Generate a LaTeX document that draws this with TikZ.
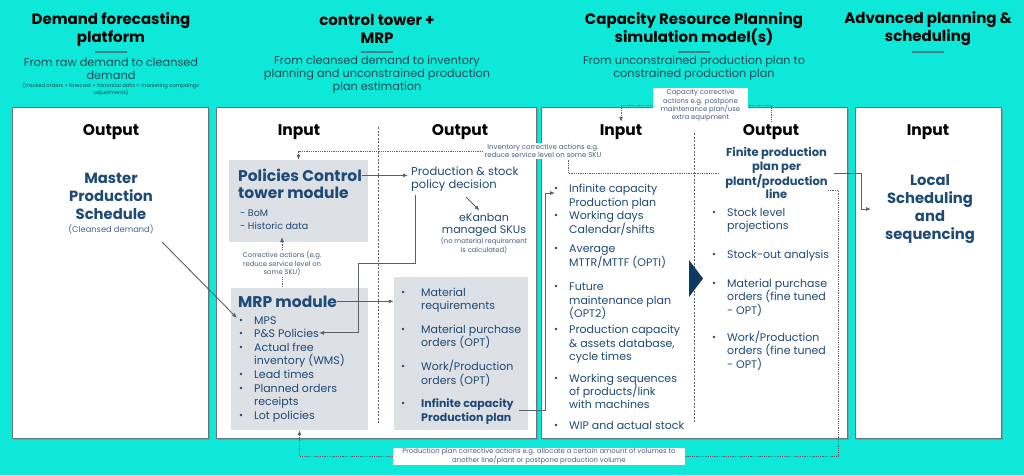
\documentclass[tikz,border=0pt]{standalone}
\usepackage{fontspec}
\setmainfont{Poppins}
\usetikzlibrary{arrows.meta,shadows}
\definecolor{bgc}{RGB}{14,232,216}
\definecolor{navy}{RGB}{30,74,118}
\definecolor{subc}{RGB}{32,72,84}
\definecolor{lblc}{RGB}{70,92,125}
\definecolor{cdc}{RGB}{70,100,140}
\definecolor{grayb}{RGB}{221,224,229}
\definecolor{linec}{RGB}{88,96,108}
\definecolor{borderc}{RGB}{105,115,120}
\definecolor{barc}{RGB}{70,125,135}
\definecolor{tric}{RGB}{14,58,100}
\tikzset{
  colbox/.style={draw=borderc, line width=0.8pt, fill=white, drop shadow={shadow xshift=1.5pt, shadow yshift=-1.5pt, opacity=0.5}, inner sep=0},
  graybox/.style={fill=grayb, inner sep=0},
  hdr/.style={font=\fontsize{15}{18}\selectfont\bfseries, align=center, inner sep=0, text=black},
  subt/.style={font=\fontsize{11.3}{13}\selectfont, align=center, inner sep=0, text=subc},
  tinyt/.style={font=\fontsize{5.2}{6}\selectfont, align=center, inner sep=0, text=subc},
  io/.style={font=\fontsize{15.5}{17}\selectfont\bfseries, inner sep=3pt, text=black},
  bigb/.style={font=\fontsize{14.8}{18}\selectfont\bfseries, align=center, inner sep=0, text=navy},
  modt/.style={font=\fontsize{15.5}{17}\selectfont\bfseries, anchor=base west, inner sep=0, text=navy},
  smt/.style={font=\fontsize{9.5}{12}\selectfont, anchor=base west, inner sep=0, text=navy},
  bt/.style={font=\fontsize{11}{13.5}\selectfont, anchor=base west, inner sep=0, text=navy},
  btb/.style={font=\fontsize{11}{13.5}\selectfont\bfseries, anchor=base west, inner sep=0, text=navy},
  bul/.style={circle, fill=navy, inner sep=0, minimum size=2.6pt},
  lbl/.style={align=center, text=lblc, fill=white, inner sep=1.5pt},
  bar/.style={draw=barc, line width=2pt},
  conn/.style={draw=linec, line width=0.9pt, -{Latex[length=5pt,width=4pt]}},
  dotc/.style={draw=linec, line width=0.8pt, dash pattern=on 0.9pt off 0.9pt},
  dota/.style={dotc, -{Latex[length=5pt,width=4pt]}},
  divl/.style={draw=linec, line width=0.8pt, dash pattern=on 2pt off 1.5pt},
}
\begin{document}
\begin{tikzpicture}[x=1pt,y=-1pt]
\fill[bgc] (0,0) rectangle (1024,475);
\useasboundingbox (0,0) rectangle (1024,475);

% headers
\node[hdr] (h1) at (111,29) {Demand forecasting\\platform};
\node[hdr] (h2) at (377,29) {control tower +\\MRP};
\node[hdr] (h3) at (694,29) {Capacity Resource Planning\\simulation model(s)};
\node[hdr] (h4) at (928,29) {Advanced planning \&\\scheduling};
\draw[bar] (95,52) -- (127,52);
\draw[bar] (361,52) -- (393,52);
\draw[bar] (678,52) -- (710,52);
\draw[bar] (912,52) -- (944,52);
\node[subt] (s1) at (111,68.5) {From raw demand to cleansed\\demand};
\node[tinyt] (s1b) at (111,89) {(tracked orders + forecast + historical data + marketing campaings\\adjustments)};
\node[subt] (s2) at (377,75) {From cleansed demand to inventory\\planning and unconstrained production\\plan estimation};
\node[subt] (s3) at (694,68.5) {From unconstrained production plan to\\constrained production plan};

% column boxes
\node[colbox, minimum width=196pt, minimum height=331pt] (c1) at (110,272.5) {};
\node[colbox, minimum width=320pt, minimum height=331pt] (c2) at (376,272.5) {};
\node[colbox, minimum width=306pt, minimum height=331pt] (c3) at (694,272.5) {};
\node[colbox, minimum width=146pt, minimum height=331pt] (c4) at (928,272.5) {};

% io headers
\node[io] (o1) at (111,132.5) {Output};
\node[io] (i2) at (299,132.5) {Input};
\node[io] (o2) at (460,132.5) {Output};
\node[io] (i3) at (621,132.5) {Input};
\node[io] (o3) at (771,132.5) {Output};
\node[io] (i4) at (928,132.5) {Input};

% dividers
\draw[divl] (378,127) -- (378,423);
\draw[divl] (694,133) -- (694,423);

% column 1
\node[bigb] (mps) at (111,196) {Master\\Production\\Schedule};
\node[font=\fontsize{8.3}{10}\selectfont, text=cdc, inner sep=0] (cd) at (111,229) {(Cleansed demand)};

% column 2 gray boxes
\node[graybox, minimum width=139pt, minimum height=82pt] (pol) at (298.5,201) {};
\node[graybox, minimum width=137pt, minimum height=142pt] (mrpb) at (299.5,359) {};
\node[graybox, minimum width=134pt, minimum height=153pt] (ob) at (461,353.5) {};

\node[modt] (pol1) at (238,181.5) {Policies Control};
\node[modt] (pol2) at (238,198.5) {tower module};
\node[smt] (bom) at (240,216.5) {- BoM};
\node[smt] (his) at (240,229) {- Historic data};

\node[bt, font=\fontsize{11.5}{14}\selectfont] (psd1) at (411,175.5) {Production \& stock};
\node[bt, font=\fontsize{11.5}{14}\selectfont] (psd2) at (411,188) {policy decision};
\node[font=\fontsize{11}{12.5}\selectfont, align=center, inner sep=0, text=navy] (ek) at (484,225) {eKanban\\managed SKUs};
\node[font=\fontsize{6.8}{8.6}\selectfont, align=center, inner sep=0, text=lblc] (ekn) at (484,245.5) {(no material requirement\\is calculated)};

\node[lbl, font=\fontsize{6.8}{8.6}\selectfont, fill=none, inner sep=1pt] (cor) at (282,263.5) {Corrective actions (e.g.\\reduce service level on\\some SKU)};

\node[modt] (mrpt) at (238,307) {MRP module};
% MRP bullets
\foreach \y in {320,333,347,374,388,415} \node[bul] at (241,\y) {};
\node[bt] (m1) at (254,324) {MPS};
\node[bt] (ps) at (254,337) {P\&S Policies};
\node[bt] (m3) at (254,351) {Actual free};
\node[bt] (m3b) at (254,364) {inventory (WMS)};
\node[bt] (m4) at (254,378) {Lead times};
\node[bt] (m5) at (254,392) {Planned orders};
\node[bt] (m5b) at (254,405) {receipts};
\node[bt] (m6) at (254,419) {Lot policies};

% output bullets col 2
\foreach \y in {292,329,366,403} \node[bul] at (403,\y) {};
\node[bt] (q1) at (421,296) {Material};
\node[bt] (q1b) at (421,309) {requirements};
\node[bt] (q2) at (421,333) {Material purchase};
\node[bt] (q2b) at (421,346) {orders (OPT)};
\node[bt] (q3) at (421,370) {Work/Production};
\node[bt] (q3b) at (421,384) {orders (OPT)};
\node[btb] (ic1) at (421,407) {Infinite capacity};
\node[btb] (ic2) at (421,421) {Production plan};

% column 3 input
\foreach \y in {188,215,248,286,329,378,425} \node[bul] at (556,\y) {};
\node[bt] (r1) at (569,192) {Infinite capacity};
\node[bt] (r1b) at (569,206) {Production plan};
\node[bt] (r2) at (569,219) {Working days};
\node[bt] (r2b) at (569,233) {Calendar/shifts};
\node[bt] (r3) at (569,252) {Average};
\node[bt] (r3b) at (569,266) {MTTR/MTTF (OPTI)};
\node[bt] (r4) at (569,290) {Future};
\node[bt] (r4b) at (569,304) {maintenance plan};
\node[bt] (r4c) at (569,317) {(OPT2)};
\node[bt] (r5) at (569,333) {Production capacity};
\node[bt] (r5b) at (569,347) {\& assets database,};
\node[bt] (r5c) at (569,360) {cycle times};
\node[bt] (r6) at (569,382) {Working sequences};
\node[bt] (r6b) at (569,395) {of products/link};
\node[bt] (r6c) at (569,408) {with machines};
\node[bt] (r7) at (569,429) {WIP and actual stock};

\fill[tric] (689,260) -- (703,278.5) -- (689,297) -- cycle;

% column 3 output
\node[font=\fontsize{11.5}{13.5}\selectfont\bfseries, align=center, inner sep=6pt, text=navy] (fin) at (776.5,173) {Finite production\\plan per\\plant/production\\line};
\foreach \y in {212,254,283,337} \node[bul] at (714,\y) {};
\node[bt] (u1) at (727,216) {Stock level};
\node[bt] (u1b) at (727,229) {projections};
\node[bt] (u2) at (727,258) {Stock-out analysis};
\node[bt] (u3) at (727,287) {Material purchase};
\node[bt] (u3b) at (727,300) {orders (fine tuned};
\node[bt] (u3c) at (727,314) {- OPT)};
\node[bt] (u4) at (727,341) {Work/Production};
\node[bt] (u4b) at (727,354) {orders (fine tuned};
\node[bt] (u4c) at (727,368) {- OPT)};

% column 4
\node[bigb] (loc) at (930,209) {Local\\Scheduling\\and\\sequencing};

% labels
\node[lbl, font=\fontsize{7}{8.4}\selectfont] (invl) at (543,151) {Inventory corrective actions e.g.\\reduce service level on some SKU};
\node[lbl, font=\fontsize{6.9}{8.4}\selectfont, minimum width=95pt, minimum height=34pt] (capl) at (700.5,105.5) {Capacity corrective\\actions e.g. postpone\\maintenance plan/use\\extra equipment};
\node[lbl, font=\fontsize{6.9}{8.8}\selectfont, minimum width=292pt, minimum height=17pt, inner sep=0.5pt] (pcl) at (539,456) {Production plan corrective actions e.g. allocate a certain amount of volumes to\\another line/plant or postpone production volume};

% coordinates
\coordinate (a1) at (162,242);
\coordinate (a2) at (237,318);
\coordinate (k1) at (415,195);
\coordinate (k2) at (358.5,263);
\coordinate (e1) at (466,197);
\coordinate (e2) at (479.5,210.5);
\coordinate (n1) at (519,410);
\coordinate (n2) at (545,193);
\coordinate (n3) at (555,193);
\coordinate (l1) at (861,209);
\coordinate (l2) at (871,209);
\coordinate (v1) at (568,173);
\coordinate (v2) at (568,159.5);
\coordinate (p1) at (828,190);
\coordinate (p2) at (838,456);
\coordinate (c1a) at (282,237);

% connectors
\draw[conn] (a1) -- (a2);
\draw[conn, shorten >=3pt] (pol1.east) -- (pol1.east -| psd1.west);
\draw[conn] (e1) -- (e2);
\draw[conn] (k1) |- (k2) |- (ps.east);
\draw[conn] (mrpt.east) -- (mrpt.east -| ob.west);
\draw[conn] (n1) -| (n2) -- (n3);
\draw[conn] (fin.east) -| (l1) -- (l2);

\draw[dota] (cor.north) -- (c1a);
\draw[dotc] (cor.south) -- (cor.south |- mrpb.north);
\draw[dotc] (fin.west) -- (v1) -- (v2);
\draw[dota] (invl.west) -| (pol.north);
\draw[dotc] (o3.north) |- (capl.east);
\draw[dota] (capl.west) -| (i3.north);
\draw[dotc] (p1) -| (p2) -- (pcl.east);
\draw[dota] (pcl.west) -| (mrpb.south);
\end{tikzpicture}
\end{document}
